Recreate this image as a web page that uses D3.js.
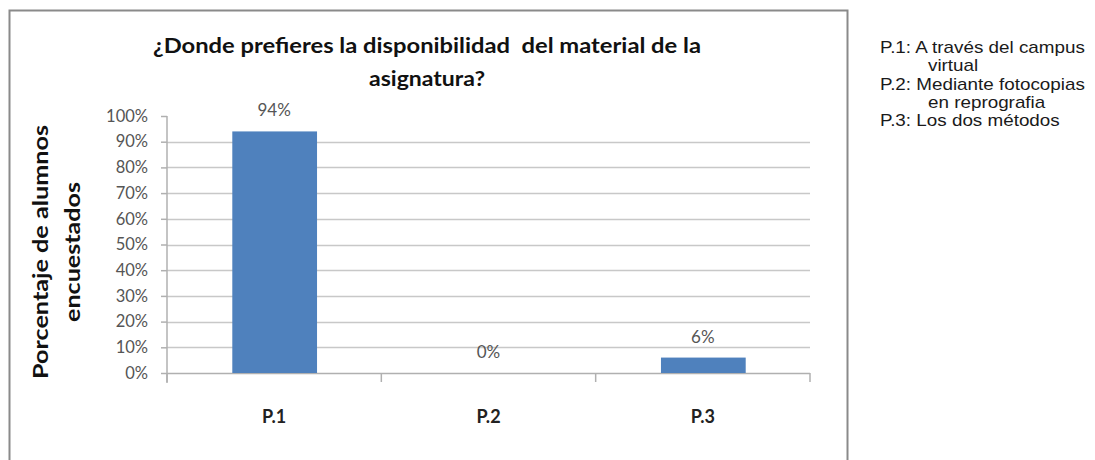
<!DOCTYPE html>
<html>
<head>
<meta charset="utf-8">
<script src="https://cdn.jsdelivr.net/npm/d3@7/dist/d3.min.js"></script>
<style>
  html, body { margin: 0; padding: 0; background: #fff; }
  svg { display: block; }
</style>
</head>
<body>
<svg id="chart" width="1095" height="460"></svg>
<script>
// Survey answers: where students prefer the course material to be available
const categories = ["P.1", "P.2", "P.3"];
const values = [94, 0, 6];
const yTicks = [0, 10, 20, 30, 40, 50, 60, 70, 80, 90, 100];
const titleLines = ["¿Donde prefieres la disponibilidad\u00a0 del material de la", "asignatura?"];
const yTitleLines = ["Porcentaje de alumnos", "encuestados"];
const legendLines = [
  { text: "P.1: A través del campus", indent: false },
  { text: "virtual", indent: true },
  { text: "P.2: Mediante fotocopias", indent: false },
  { text: "en reprografia", indent: true },
  { text: "P.3: Los dos métodos", indent: false }
];

const svg = d3.select("#chart");
const plot = { left: 167, right: 810, top: 116, bottom: 373 };

// chart frame
svg.append("rect")
  .attr("x", 9.5).attr("y", 10.5)
  .attr("width", 838).attr("height", 480)
  .attr("fill", "#fff")
  .attr("stroke", "#8a8a8a")
  .attr("stroke-width", 2);

const x = d3.scaleBand()
  .domain(categories)
  .range([plot.left, plot.right])
  .paddingInner(0.6)
  .paddingOuter(0.3);

const y = d3.scaleLinear()
  .domain([0, 100])
  .range([plot.bottom, plot.top]);

// horizontal gridlines
svg.append("g")
  .selectAll("line")
  .data(yTicks.filter(t => t > 0 && t < 100))
  .join("line")
  .attr("x1", plot.left).attr("x2", plot.right)
  .attr("y1", d => Math.round(y(d)) + 0.5)
  .attr("y2", d => Math.round(y(d)) + 0.5)
  .attr("stroke", "#c8c8c8")
  .attr("stroke-width", 1.5);

// y axis
const yAxis = d3.axisLeft(y)
  .tickValues(yTicks)
  .tickFormat(d => d + "%")
  .tickSize(6)
  .tickPadding(13);

const gy = svg.append("g")
  .attr("transform", `translate(${plot.left},0)`)
  .call(yAxis);
gy.select(".domain").remove();
gy.selectAll(".tick line")
  .attr("stroke", "#b0b0b0")
  .attr("stroke-width", 1.5);
gy.append("line")
  .attr("x1", 0).attr("x2", 0)
  .attr("y1", plot.top).attr("y2", plot.bottom + 10)
  .attr("stroke", "#b0b0b0")
  .attr("stroke-width", 1.5);
gy.selectAll(".tick text")
  .attr("fill", "#555")
  .style("font-family", "Lato, 'Open Sans', sans-serif")
  .style("font-size", "16.5px");

// x axis baseline and category boundary ticks
const step = x.step();
const boundaries = d3.range(categories.length + 1).map(i => plot.left + i * step);
const gx = svg.append("g");
gx.append("line")
  .attr("x1", plot.left).attr("x2", plot.right)
  .attr("y1", plot.bottom + 0.5).attr("y2", plot.bottom + 0.5)
  .attr("stroke", "#b0b0b0")
  .attr("stroke-width", 1.5);
gx.selectAll("line.bt")
  .data(boundaries)
  .join("line")
  .attr("class", "bt")
  .attr("x1", d => d).attr("x2", d => d)
  .attr("y1", plot.bottom).attr("y2", plot.bottom + 9)
  .attr("stroke", "#b0b0b0")
  .attr("stroke-width", 1.5);

const xAxis = d3.axisBottom(x).tickSize(0).tickPadding(0);
const gxl = svg.append("g")
  .attr("transform", `translate(0,${plot.bottom})`)
  .call(xAxis);
gxl.select(".domain").remove();
gxl.selectAll(".tick text")
  .attr("dy", null)
  .attr("y", 50)
  .attr("fill", "#222")
  .style("font-family", "Lato, 'Open Sans', sans-serif")
  .style("font-weight", "bold")
  .style("font-size", "18px");

// bars
svg.append("g")
  .selectAll("rect")
  .data(categories.map((c, i) => ({ c, v: values[i] })))
  .join("rect")
  .attr("x", d => x(d.c) + 1)
  .attr("width", x.bandwidth() - 1)
  .attr("y", d => y(d.v))
  .attr("height", d => y(0) - y(d.v))
  .attr("fill", "#4f81bd");

// value labels
svg.append("g")
  .selectAll("text")
  .data(categories.map((c, i) => ({ c, v: values[i] })))
  .join("text")
  .attr("x", d => x(d.c) + x.bandwidth() / 2)
  .attr("y", d => y(d.v) - 15)
  .attr("text-anchor", "middle")
  .attr("fill", "#555")
  .style("font-family", "Lato, 'Open Sans', sans-serif")
  .style("font-size", "17px")
  .text(d => d.v + "%");

// title
const titleCx = 427;
svg.append("g")
  .selectAll("text")
  .data(titleLines)
  .join("text")
  .attr("x", titleCx)
  .attr("y", (d, i) => 53 + i * 33)
  .attr("text-anchor", "middle")
  .attr("fill", "#111")
  .style("font-family", "Lato, 'Open Sans', sans-serif")
  .style("font-weight", "bold")
  .style("font-size", "20px")
  .attr("textLength", (d, i) => i === 0 ? 548 : 116)
  .attr("lengthAdjust", "spacingAndGlyphs")
  .text(d => d);

// y-axis title, two rotated lines
svg.append("g")
  .selectAll("text")
  .data(yTitleLines)
  .join("text")
  .attr("transform", (d, i) => `translate(${48 + i * 32},252) rotate(-90)`)
  .attr("text-anchor", "middle")
  .attr("fill", "#111")
  .style("font-family", "Lato, 'Open Sans', sans-serif")
  .style("font-weight", "bold")
  .style("font-size", "21px")
  .attr("textLength", (d, i) => i === 0 ? 254 : 140)
  .attr("lengthAdjust", "spacingAndGlyphs")
  .text(d => d);

// legend text block to the right of the frame
const legend = svg.append("g").attr("transform", "translate(880,53)");
const legendText = legend.selectAll("text")
  .data(legendLines)
  .join("text")
  .attr("y", (d, i) => i * 18.3)
  .attr("fill", "#1a1a1a")
  .style("font-family", "'Liberation Sans', Arial, sans-serif")
  .style("font-size", "16px")
  .text(d => d.text);
// widen the block horizontally so the first line spans ~205px
const firstLen = legendText.nodes()[0].getComputedTextLength();
const sx = 205 / firstLen;
legendText.attr("transform", `scale(${sx},1)`)
  .attr("x", d => (d.indent ? 48 : 0) / sx);
</script>
</body>
</html>
